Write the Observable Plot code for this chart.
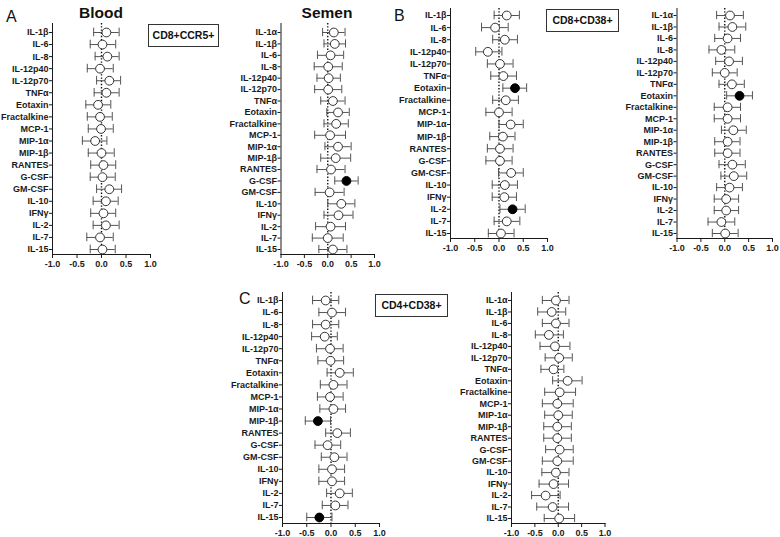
<!DOCTYPE html>
<html>
<head>
<meta charset="utf-8">
<script src="https://cdn.jsdelivr.net/npm/d3@7"></script>
<script src="https://cdn.jsdelivr.net/npm/@observablehq/plot@0.6"></script>
<style>
  html, body { margin: 0; padding: 0; background: #fff; overflow: hidden; }
  #wrap { position: relative; width: 780px; height: 537px; font-family: "Liberation Sans", Arial, sans-serif; }
  #wrap svg.panel { position: absolute; }
  #overlay { position: absolute; left: 0; top: 0; pointer-events: none; }
</style>
</head>
<body>
<div id="wrap"></div>
<script>
// ---- categories ----
const cyto19 = ["IL-1β","IL-6","IL-8","IL-12p40","IL-12p70","TNFα","Eotaxin","Fractalkine","MCP-1","MIP-1α","MIP-1β","RANTES","G-CSF","GM-CSF","IL-10","IFNγ","IL-2","IL-7","IL-15"];
const cyto20 = ["IL-1α","IL-1β","IL-6","IL-8","IL-12p40","IL-12p70","TNFα","Eotaxin","Fractalkine","MCP-1","MIP-1α","MIP-1β","RANTES","G-CSF","GM-CSF","IL-10","IFNγ","IL-2","IL-7","IL-15"];
const xTicks = [-1, -0.5, 0, 0.5, 1];

// ---- A: CD8+CCR5+ Blood ----
const bloodEst = [0.10,0.02,0.12,-0.03,0.16,0.10,-0.07,-0.03,-0.01,-0.13,0.00,0.04,0.02,0.16,0.09,0.04,0.09,-0.03,0.02];
const bloodLo  = [-0.16,-0.23,-0.13,-0.29,-0.10,-0.15,-0.32,-0.29,-0.27,-0.39,-0.27,-0.22,-0.23,-0.10,-0.17,-0.22,-0.17,-0.30,-0.23];
const bloodHi  = [0.36,0.29,0.36,0.24,0.39,0.36,0.19,0.22,0.24,0.11,0.26,0.29,0.28,0.41,0.34,0.29,0.36,0.24,0.28];
const bloodSig = [];

// ---- A: CD8+CCR5+ Semen ----
const semenEst = [0.13,0.15,0.06,0.01,0.02,0.01,0.11,0.22,0.18,0.05,0.22,0.17,0.07,0.40,0.04,0.29,0.23,0.06,0.00,0.11];
const semenLo  = [-0.11,-0.08,-0.22,-0.29,-0.23,-0.28,-0.15,-0.02,-0.08,-0.28,-0.06,-0.15,-0.23,0.15,-0.27,0.00,-0.08,-0.26,-0.33,-0.19];
const semenHi  = [0.37,0.38,0.34,0.31,0.27,0.30,0.37,0.46,0.44,0.38,0.50,0.49,0.37,0.65,0.35,0.58,0.54,0.38,0.33,0.41];
const semenSig = ["G-CSF"];

// ---- B: CD8+CD38+ Blood ----
const b1Est = [0.16,-0.08,0.12,-0.23,0.02,0.09,0.33,0.14,0.00,0.24,0.08,0.02,0.02,0.25,0.12,0.11,0.28,0.16,0.04];
const b1Lo  = [-0.10,-0.36,-0.13,-0.48,-0.24,-0.17,0.08,-0.13,-0.27,0.00,-0.19,-0.24,-0.27,-0.01,-0.14,-0.14,0.02,-0.10,-0.22];
const b1Hi  = [0.42,0.19,0.38,0.06,0.29,0.36,0.57,0.40,0.27,0.50,0.33,0.29,0.27,0.50,0.38,0.36,0.54,0.43,0.31];
const b1Sig = ["Eotaxin","IL-2"];

// ---- B: CD8+CD38+ Semen ----
const b2Est = [0.11,0.16,0.06,-0.07,0.09,0.00,0.15,0.31,0.06,0.06,0.18,0.06,0.06,0.16,0.19,0.10,0.03,0.03,-0.07,0.01];
const b2Lo  = [-0.17,-0.12,-0.21,-0.33,-0.19,-0.26,-0.12,0.04,-0.22,-0.22,-0.07,-0.21,-0.21,-0.12,-0.08,-0.17,-0.22,-0.22,-0.35,-0.26];
const b2Hi  = [0.39,0.44,0.33,0.21,0.37,0.26,0.41,0.58,0.33,0.33,0.45,0.32,0.32,0.43,0.46,0.37,0.29,0.29,0.21,0.28];
const b2Sig = ["Eotaxin"];

// ---- C: CD4+CD38+ Blood ----
const c1Est = [-0.11,0.02,-0.11,-0.13,-0.02,-0.01,0.18,0.05,-0.02,0.05,-0.27,0.13,-0.07,0.07,0.02,0.02,0.18,0.09,-0.24];
const c1Lo  = [-0.38,-0.25,-0.38,-0.40,-0.30,-0.27,-0.08,-0.22,-0.28,-0.23,-0.53,-0.11,-0.33,-0.20,-0.25,-0.25,-0.09,-0.18,-0.50];
const c1Hi  = [0.16,0.30,0.16,0.13,0.25,0.26,0.46,0.33,0.25,0.30,-0.01,0.40,0.20,0.33,0.28,0.28,0.44,0.35,0.02];
const c1Sig = ["MIP-1β","IL-15"];

// ---- C: CD4+CD38+ Semen ----
const c2Est = [-0.05,-0.14,-0.05,-0.20,-0.07,0.02,-0.10,0.20,0.03,-0.02,0.00,-0.02,-0.02,0.03,-0.02,-0.05,-0.10,-0.27,-0.12,0.02];
const c2Lo  = [-0.34,-0.44,-0.34,-0.49,-0.39,-0.28,-0.37,-0.12,-0.29,-0.34,-0.29,-0.31,-0.31,-0.27,-0.34,-0.35,-0.41,-0.57,-0.46,-0.30];
const c2Hi  = [0.23,0.16,0.23,0.11,0.25,0.30,0.12,0.51,0.37,0.32,0.30,0.28,0.28,0.32,0.32,0.23,0.22,0.04,0.22,0.35];
const c2Sig = [];

const wrap = document.getElementById("wrap");

function panel(cats, est, lo, hi, sig, g) {
  const n = cats.length;
  const rows = cats.map((name, i) => ({i, name, est: est[i], lo: lo[i], hi: hi[i], sig: sig.includes(name)}));
  const w = g.xr + 8 - g.L;
  const h = g.fb + 18 - g.T;
  const cap = 0.36;
  const chart = Plot.plot({
    width: w, height: h,
    marginLeft: g.xl - g.L, marginRight: w - (g.xr - g.L),
    marginTop: g.ft - g.T, marginBottom: h - (g.fb - g.T),
    style: {background: "transparent", fontFamily: "'Liberation Sans', Arial, sans-serif", fontSize: "9px", fontWeight: "bold", color: "#1a1a1a", overflow: "visible"},
    x: {domain: [-1, 1], ticks: xTicks, tickFormat: d => d.toFixed(1), tickSize: 4, tickPadding: 2, line: true, label: null},
    y: {domain: [0, n - 1], range: [g.r0 - g.T, g.r1 - g.T], ticks: d3.range(n), tickFormat: i => cats[i], tickSize: 3, tickPadding: 1, line: true, label: null},
    marks: [
      Plot.ruleX([0], {stroke: "#111", strokeWidth: 1.4, strokeDasharray: "1.4,1.8"}),
      Plot.ruleY(rows, {y: "i", x1: "lo", x2: "hi", stroke: "#555", strokeWidth: 1}),
      Plot.ruleX(rows, {x: "lo", y1: d => d.i - cap, y2: d => d.i + cap, stroke: "#555", strokeWidth: 1}),
      Plot.ruleX(rows, {x: "hi", y1: d => d.i - cap, y2: d => d.i + cap, stroke: "#555", strokeWidth: 1}),
      Plot.dot(rows.filter(d => !d.sig), {x: "est", y: "i", r: 4.4, fill: "white", stroke: "#333", strokeWidth: 1}),
      Plot.dot(rows.filter(d => d.sig), {x: "est", y: "i", r: 4.4, fill: "black", stroke: "black", strokeWidth: 1})
    ]
  });
  chart.classList.add("panel");
  chart.style.left = g.L + "px";
  chart.style.top = g.T + "px";
  chart.style.maxWidth = "none";
  wrap.appendChild(chart);
}

panel(cyto19, bloodEst, bloodLo, bloodHi, bloodSig, {L: 0,   T: 0,   xl: 52,    xr: 150,   ft: 23,  fb: 254, r0: 32,  r1: 249});
panel(cyto20, semenEst, semenLo, semenHi, semenSig, {L: 180, T: 0,   xl: 280.5, xr: 374,   ft: 23,  fb: 254, r0: 32,  r1: 249});
panel(cyto19, b1Est, b1Lo, b1Hi, b1Sig,             {L: 390, T: 0,   xl: 450,   xr: 547,   ft: 8,   fb: 238, r0: 15,  r1: 233});
panel(cyto20, b2Est, b2Lo, b2Hi, b2Sig,             {L: 600, T: 0,   xl: 676.5, xr: 772,   ft: 8,   fb: 238, r0: 15,  r1: 233});
panel(cyto19, c1Est, c1Lo, c1Hi, c1Sig,             {L: 200, T: 280, xl: 282,   xr: 379,   ft: 292, fb: 523, r0: 300, r1: 517});
panel(cyto20, c2Est, c2Lo, c2Hi, c2Sig,             {L: 440, T: 280, xl: 511,   xr: 604.5, ft: 292, fb: 523, r0: 300, r1: 518});

// ---- annotations: panel letters, titles, population boxes ----
const ns = "http://www.w3.org/2000/svg";
const ov = document.createElementNS(ns, "svg");
ov.setAttribute("id", "overlay");
ov.setAttribute("width", 780);
ov.setAttribute("height", 537);
wrap.appendChild(ov);
function txt(s, x, y, size, weight, anchor) {
  const t = document.createElementNS(ns, "text");
  t.textContent = s;
  t.setAttribute("x", x); t.setAttribute("y", y);
  t.setAttribute("font-size", size);
  t.setAttribute("font-weight", weight);
  t.setAttribute("text-anchor", anchor || "start");
  t.setAttribute("font-family", "'Liberation Sans', Arial, sans-serif");
  t.setAttribute("fill", "#111");
  ov.appendChild(t);
}
function box(s, x, y, w, h) {
  const r = document.createElementNS(ns, "rect");
  r.setAttribute("x", x); r.setAttribute("y", y);
  r.setAttribute("width", w); r.setAttribute("height", h);
  r.setAttribute("fill", "white"); r.setAttribute("stroke", "#333"); r.setAttribute("stroke-width", 1);
  ov.appendChild(r);
  txt(s, x + w / 2, y + h / 2 + 3.8, 10.5, "bold", "middle");
}
txt("A", 6, 22, 16, "normal");
txt("B", 394, 21, 16, "normal");
txt("C", 239, 304, 16, "normal");
txt("Blood", 101, 18, 15.5, "bold", "middle");
txt("Semen", 327, 18, 15.5, "bold", "middle");
box("CD8+CCR5+", 148.5, 24.5, 70, 22);
box("CD8+CD38+", 546.5, 9.5, 72, 22);
box("CD4+CD38+", 375.5, 294.5, 72, 22);
</script>
</body>
</html>
